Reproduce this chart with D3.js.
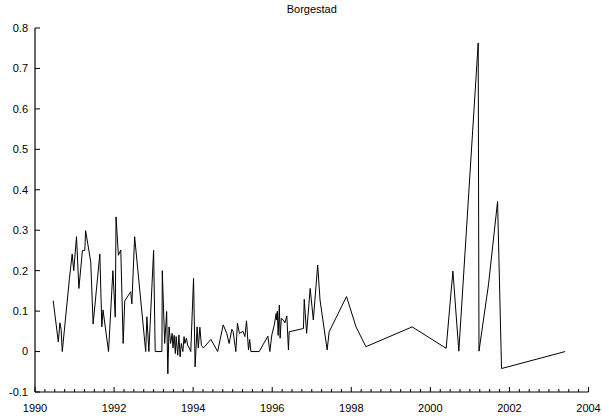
<!DOCTYPE html>
<html>
<head>
<meta charset="utf-8">
<script src="https://cdn.jsdelivr.net/npm/d3@7"></script>
<style>
  body { margin: 0; background: #fff; }
  svg { display: block; font-family: "Liberation Sans", Arial, sans-serif; }
</style>
</head>
<body>
<svg id="chart"></svg>
<script>
const title = 'Borgestad';

// decimal year of each observation
const years = [
  1990.46, 1990.59, 1990.63, 1990.66, 1990.69, 1990.87, 1990.94, 1990.98, 1991.05, 1991.11,
  1991.20, 1991.26, 1991.28, 1991.41, 1991.47, 1991.64, 1991.69, 1991.72, 1991.86, 1991.97,
  1992.03, 1992.05, 1992.11, 1992.17, 1992.23, 1992.27, 1992.42, 1992.45, 1992.52, 1992.80,
  1992.83, 1992.88, 1993.00, 1993.04, 1993.21, 1993.22, 1993.28, 1993.33, 1993.36, 1993.39,
  1993.43, 1993.47, 1993.49, 1993.52, 1993.55, 1993.57, 1993.61, 1993.64, 1993.67, 1993.70,
  1993.74, 1993.77, 1993.79, 1993.83, 1993.86, 1993.90, 1993.94, 1994.01, 1994.05, 1994.10,
  1994.13, 1994.17, 1994.21, 1994.26, 1994.45, 1994.62, 1994.76, 1994.85, 1994.91, 1994.98,
  1995.01, 1995.08, 1995.12, 1995.17, 1995.26, 1995.31, 1995.35, 1995.40, 1995.43, 1995.46,
  1995.67, 1995.89, 1995.94, 1995.99, 1996.05, 1996.10, 1996.11, 1996.13, 1996.15, 1996.18,
  1996.20, 1996.23, 1996.28, 1996.32, 1996.37, 1996.41, 1996.43, 1996.79, 1996.81, 1996.87,
  1996.96, 1997.04, 1997.15, 1997.21, 1997.39, 1997.44, 1997.88, 1998.12, 1998.37, 1999.54,
  2000.40, 2000.57, 2000.72, 2001.21, 2001.23, 2001.47, 2001.70, 2001.80, 2003.41
];

const values = [
  0.126, 0.024, 0.071, 0.055, 0.0, 0.18, 0.241, 0.2, 0.284, 0.156,
  0.25, 0.25, 0.299, 0.222, 0.068, 0.241, 0.061, 0.103, 0.0, 0.2,
  0.085, 0.333, 0.238, 0.251, 0.02, 0.125, 0.148, 0.118, 0.284, 0.0,
  0.086, 0.0, 0.25, 0.0, 0.0, 0.2, 0.02, 0.099, -0.055, 0.061,
  0.02, 0.045, 0.009, 0.04, -0.005, 0.037, -0.009, 0.041, -0.013, 0.02,
  0.0, 0.037, 0.02, 0.033, 0.016, 0.009, 0.0, 0.181, -0.038, 0.061,
  0.009, 0.06, 0.015, 0.009, 0.03, 0.0, 0.066, 0.045, 0.02, 0.055,
  0.05, 0.0, 0.07, 0.045, 0.05, 0.037, 0.076, 0.004, 0.03, 0.0,
  0.0, 0.038, 0.0, 0.041, 0.065, 0.094, 0.078, 0.1, 0.04, 0.115,
  0.033, 0.082, 0.078, 0.071, 0.088, 0.004, 0.049, 0.057, 0.129, 0.045,
  0.156, 0.078, 0.214, 0.127, 0.004, 0.049, 0.136, 0.061, 0.012, 0.061,
  0.008, 0.199, 0.001, 0.763, 0.001, 0.165, 0.371, -0.042, 0.0
];

const xTicks = [1990, 1992, 1994, 1996, 1998, 2000, 2002, 2004];
const yTicks = [-0.1, 0, 0.1, 0.2, 0.3, 0.4, 0.5, 0.6, 0.7, 0.8];

const width = 602;
const height = 419;
const margin = { top: 28, right: 13.5, bottom: 27, left: 35 };

const svg = d3.select('#chart')
  .attr('width', width)
  .attr('height', height);

const x = d3.scaleLinear()
  .domain([1990, 2004])
  .range([margin.left, width - margin.right]);

const y = d3.scaleLinear()
  .domain([-0.1, 0.8])
  .range([height - margin.bottom, margin.top]);

// title
svg.append('text')
  .attr('x', (margin.left + width - margin.right) / 2)
  .attr('y', 13)
  .attr('text-anchor', 'middle')
  .style('font-size', '11px')
  .text(title);

// x axis: major ticks every 2 years, minor every quarter, pointing up
const minorTicks = d3.range(1990, 2004.001, 0.25)
  .filter(t => !xTicks.some(m => Math.abs(m - t) < 1e-6));

const xAxis = svg.append('g')
  .attr('transform', `translate(0,${height - margin.bottom})`);

xAxis.append('line')
  .attr('x1', x(1990)).attr('x2', x(2004))
  .attr('stroke', '#000').attr('stroke-width', 1.2);

xAxis.selectAll('.minor')
  .data(minorTicks)
  .enter().append('line')
  .attr('class', 'minor')
  .attr('x1', d => x(d)).attr('x2', d => x(d))
  .attr('y1', 0).attr('y2', -3)
  .attr('stroke', '#000');

const xMajor = xAxis.selectAll('.major')
  .data(xTicks)
  .enter().append('g')
  .attr('class', 'major')
  .attr('transform', d => `translate(${x(d)},0)`);

xMajor.append('line')
  .attr('y1', 0).attr('y2', -5)
  .attr('stroke', '#000');

xMajor.append('text')
  .attr('y', 20)
  .attr('text-anchor', 'middle')
  .style('font-size', '11px')
  .text(d => d);

// y axis, ticks pointing right into the plot
const yAxis = svg.append('g')
  .attr('transform', `translate(${margin.left},0)`);

yAxis.append('line')
  .attr('y1', y(-0.1)).attr('y2', y(0.8))
  .attr('stroke', '#000').attr('stroke-width', 1.2);

const yTick = yAxis.selectAll('.ytick')
  .data(yTicks)
  .enter().append('g')
  .attr('class', 'ytick')
  .attr('transform', d => `translate(0,${y(d)})`);

yTick.append('line')
  .attr('x1', 0).attr('x2', 5)
  .attr('stroke', '#000');

yTick.append('text')
  .attr('x', -7)
  .attr('dy', '0.35em')
  .attr('text-anchor', 'end')
  .style('font-size', '11px')
  .text(d => String(d));

// the series
const points = years.map((yr, i) => [yr, values[i]]);

const line = d3.line()
  .x(d => x(d[0]))
  .y(d => y(d[1]));

svg.append('path')
  .datum(points)
  .attr('fill', 'none')
  .attr('stroke', '#000')
  .attr('stroke-width', 1)
  .attr('d', line);
</script>
</body>
</html>
